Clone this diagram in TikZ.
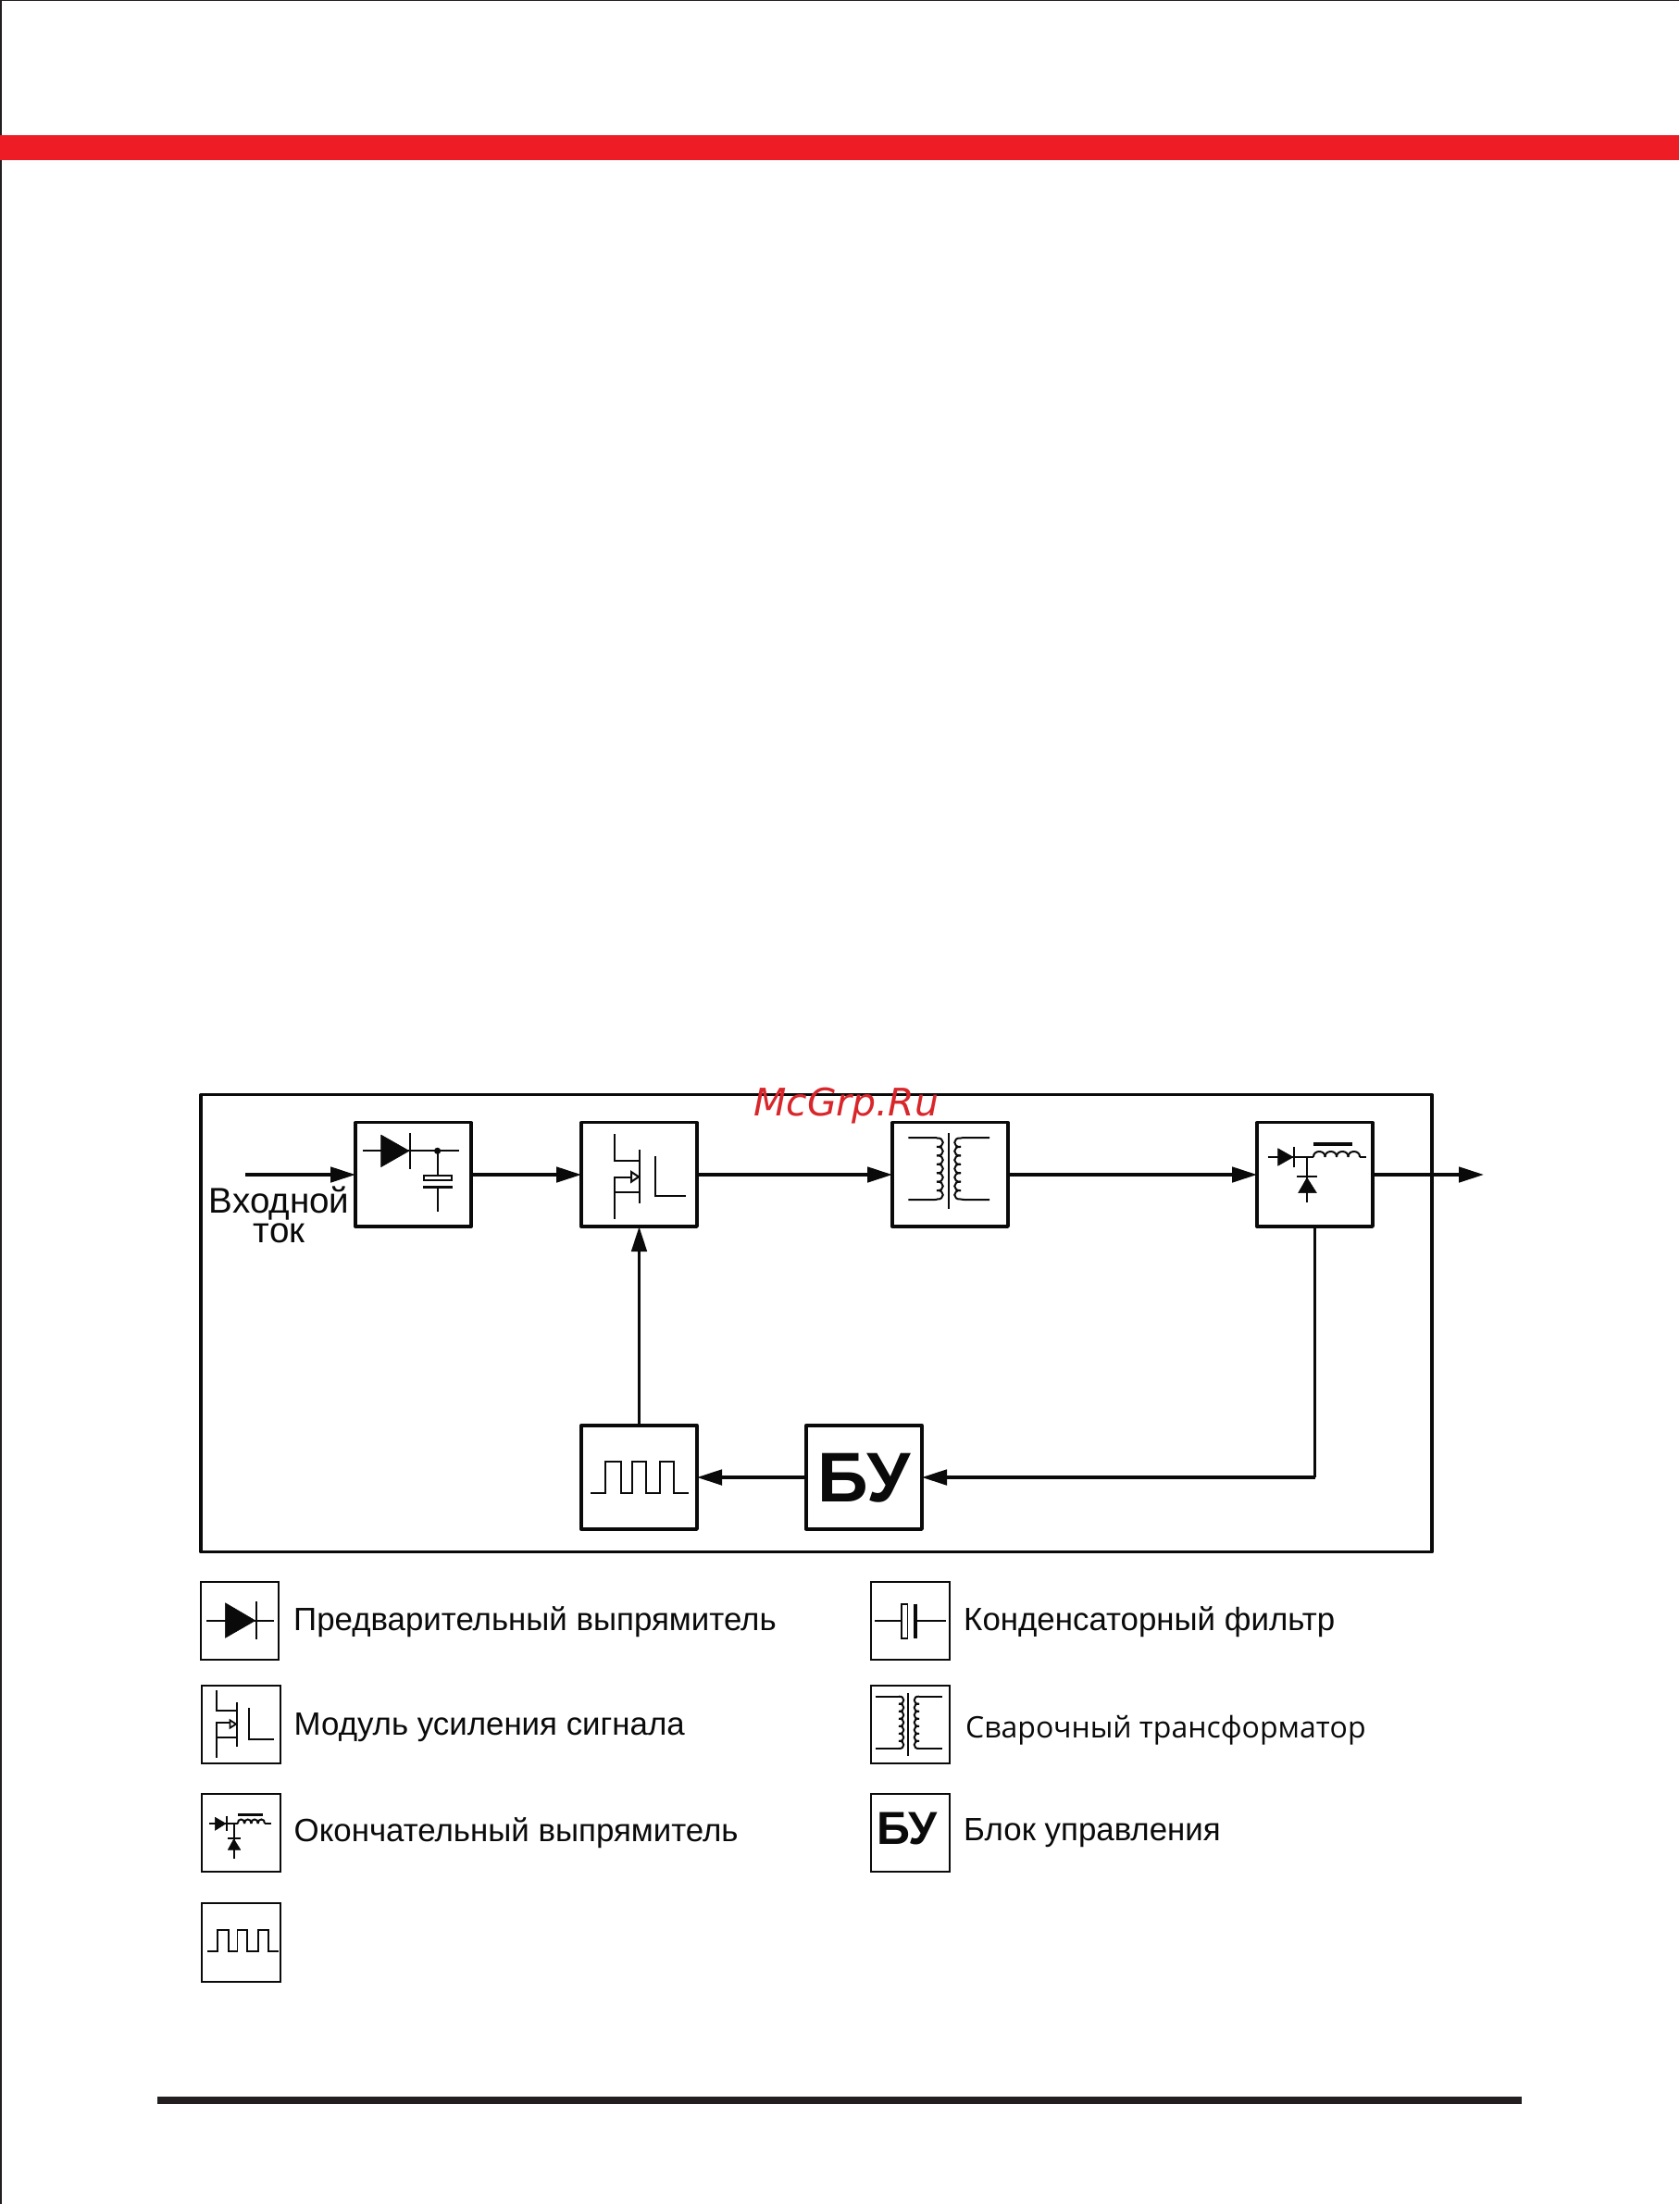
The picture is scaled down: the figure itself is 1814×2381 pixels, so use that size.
\documentclass[tikz,border=0pt]{standalone}
\usepackage{fontspec}
\setmainfont{Liberation Sans}
\newfontfamily\myriadlike{Open Sans}
\newfontfamily\wmfont{DejaVu Sans}
\usetikzlibrary{arrows.meta}
\definecolor{bandred}{HTML}{EE1C25}
\definecolor{wmred}{HTML}{D9262B}
\definecolor{inkblack}{HTML}{0A0A0A}
\definecolor{rulecol}{HTML}{231F20}
\newcommand{\fs}[1]{\fontsize{#1}{#1}\selectfont}
% coil: start x, start y, bulge, pitch, turns
\newcommand{\coil}[5]{%
  \foreach \ci in {1,...,#5}{%
    \draw[sym] ({#1},{#2+(\ci-1)*#4}) .. controls ({#1+#3},{#2+(\ci-1)*#4-1}) and ({#1+#3},{#2+\ci*#4+1}) .. ({#1},{#2+\ci*#4});
  }}
% humps of an inductor: start x, y, width of one, height, count
\newcommand{\humps}[5]{%
  \foreach \ci in {1,...,#5}{%
    \draw[sym] ({#1+(\ci-1)*#3},{#2}) .. controls ({#1+(\ci-1)*#3-0.5},{#2-#4}) and ({#1+\ci*#3+0.5},{#2-#4}) .. ({#1+\ci*#3},{#2});
  }}
\tikzset{
  block/.style={draw=inkblack,line width=3.3pt,line join=round,outer sep=0pt,anchor=north west,inner sep=0pt},
  legendbox/.style={draw=inkblack,line width=2.4pt,outer sep=0pt,anchor=north west,inner sep=0pt},
  sym/.style={draw=inkblack,line width=2pt},
  symthin/.style={draw=inkblack,line width=1.8pt},
  blackfill/.style={fill=inkblack,draw=inkblack,line width=0.5pt,line join=round},
  link/.style={draw=inkblack,line width=3.3pt},
  flow/.style={link,-{Triangle[length=27pt,width=16.5pt]}},
  legendtext/.style={anchor=base west,inner sep=0pt,text=inkblack,font=\fs{34.85}},
  boxlabel/.style={anchor=center,inner sep=0pt,text=inkblack,font=\bfseries\fs{76}},
  inlabel/.style={anchor=base,inner sep=0pt,text=inkblack,font=\fs{38.6}},
}
\begin{document}
\begin{tikzpicture}[x=1pt,y=-1pt]
\useasboundingbox (0,0) rectangle (1814,2381);
\fill[white] (0,0) rectangle (1814,2381);
% page edges, band and rule
\draw[line width=1.5pt,draw=rulecol] (0.75,2381) -- (0.75,0.75) -- (1814,0.75);
\fill[bandred] (0,146) rectangle (1814,173.5);
\fill[rulecol] (170,2265) rectangle (1644,2273);
% outer frame
\node[block,minimum width=1330pt,minimum height=494pt] (frame) at (217,1182.8) {};
% blocks
\node[block,minimum width=125pt,minimum height=112.3pt] (rect) at (384,1212.8) {};
\node[block,minimum width=125pt,minimum height=112.3pt] (amp) at (628,1212.8) {};
\node[block,minimum width=125pt,minimum height=112.3pt] (trans) at (964,1212.8) {};
\node[block,minimum width=125pt,minimum height=112.3pt] (out) at (1358,1212.8) {};
\node[block,minimum width=125pt,minimum height=112pt] (pulse) at (628,1540) {};
\node[block,minimum width=125pt,minimum height=112pt] (bu) at (871,1540) {};
\node[boxlabel] (bulabel) at (933.5,1596.5) {БУ};
% connectors
\coordinate (inp) at (265,1269);
\coordinate (outp) at (1603,1269);
\coordinate (corner) at (out.south |- bu.east);
\draw[flow] (inp) -- (rect.west |- inp);
\draw[flow] (rect.east |- inp) -- (amp.west |- inp);
\draw[flow] (amp.east |- inp) -- (trans.west |- inp);
\draw[flow] (trans.east |- inp) -- (out.west |- inp);
\draw[flow] (out.east |- inp) -- (outp);
\draw[flow] (pulse.north) -- (amp.south);
\draw[link] (out.south) -- (corner);
\draw[flow] (corner) -- (bu.east);
\draw[flow] (bu.west) -- (pulse.east);
% input label
\node[inlabel] (inlabel1) at (301.7,1310) {Входной};
\node[inlabel] (inlabel2) at (301.7,1342) {ток};
% watermark
\node[anchor=base west,inner sep=0pt,text=wmred,font=\wmfont\itshape\fs{41}] (wm) at (814,1205.5) {McGrp.Ru};
% block 1 symbol
\draw[sym] (391.6,1243.3) -- (496,1243.3);
\fill[blackfill] (411.6,1226) -- (442,1243.3) -- (411.6,1260.7) -- cycle;
\draw[sym] (442.5,1224) -- (442.5,1262.7);
\fill[inkblack] (472.6,1243.3) circle (3.6);
\draw[sym] (472.6,1243.3) -- (472.6,1270);
\draw[sym] (457.5,1270) rectangle (488,1275);
\draw[line width=3pt,draw=inkblack] (457,1282.3) -- (488.6,1282.3);
\draw[sym] (472.6,1282.3) -- (472.6,1309.3);
% mosfet block
\draw[sym] (664,1225) -- (664,1254) -- (691,1254);
\draw[sym] (691,1242.3) -- (691,1300);
\draw[sym] (682,1272) -- (664,1272) -- (664,1316.7);
\draw[sym] (664,1288.3) -- (691,1288.3);
\draw[sym,fill=white] (682,1266) -- (690,1271.3) -- (682,1276.7) -- cycle;
\draw[sym] (708,1249.3) -- (708,1291.7) -- (741,1291.7);
% transformer block
\draw[sym] (1025.2,1224) -- (1025.2,1305.7);
\draw[sym] (981.3,1229) -- (1008,1229) .. controls (1012,1229) .. (1012,1229.5);
\draw[sym] (981.3,1296) -- (1008,1296) .. controls (1012,1296) .. (1012,1295.5);
\coil{1012}{1229.5}{9}{9.43}{7}
\draw[sym] (1069,1229) -- (1044,1229) .. controls (1040,1229) .. (1038,1229.5);
\draw[sym] (1069,1296) -- (1044,1296) .. controls (1040,1296) .. (1038,1295.5);
\coil{1038}{1229.5}{-9}{9.43}{7}
% output rectifier block
\draw[sym] (1369.7,1250) -- (1419,1250);
\fill[blackfill] (1380.6,1240.7) -- (1397,1250) -- (1380.6,1259.3) -- cycle;
\draw[sym] (1398,1239.3) -- (1398,1260.7);
\draw[sym] (1412,1250) -- (1412,1299.3);
\draw[sym] (1401,1270.7) -- (1423,1270.7);
\fill[blackfill] (1412,1272.3) -- (1422.4,1288.7) -- (1402.6,1288.7) -- cycle;
\humps{1419}{1250}{12.5}{8}{4}
\draw[sym] (1469,1250) -- (1475.6,1250);
\fill[inkblack] (1419,1233.7) rectangle (1461,1237.7);
% pulse block
\draw[sym] (638.3,1612.7) -- (654,1612.7) -- (654,1579.3) -- (671,1579.3) -- (671,1612.7) -- (682.7,1612.7) -- (682.7,1579.3) -- (697.7,1579.3) -- (697.7,1612.7) -- (712.7,1612.7) -- (712.7,1579.3) -- (727.7,1579.3) -- (727.7,1612.7) -- (744,1612.7);
% legend left
\node[legendbox,minimum width=84pt,minimum height=84pt] (l1) at (217,1709) {};
\node[legendbox,minimum width=85pt,minimum height=84pt] (l2) at (218,1821) {};
\node[legendbox,minimum width=85pt,minimum height=84pt] (l3) at (218,1938) {};
\node[legendbox,minimum width=85pt,minimum height=85pt] (l4) at (218,2056) {};
\draw[symthin] (223,1750.7) -- (296,1750.7);
\fill[blackfill] (243.4,1731.7) -- (275.8,1750.7) -- (243.4,1769.3) -- cycle;
\draw[symthin] (277,1730) -- (277,1770.7);
\node[legendtext] (t1) at (317,1761) {Предварительный выпрямитель};
% legend mosfet
\draw[symthin] (233.7,1826) -- (233.7,1848.3) -- (256,1848.3);
\draw[symthin] (256,1839) -- (256,1886.7);
\draw[symthin] (248.4,1861) -- (233.7,1861) -- (233.7,1899.3);
\draw[symthin] (233.7,1876.7) -- (256,1876.7);
\draw[symthin,fill=white] (248.4,1858.3) -- (255,1862.5) -- (248.4,1866.7) -- cycle;
\draw[symthin] (268.6,1845) -- (268.6,1879) -- (296,1879);
\node[legendtext] (t2) at (317.5,1874) {Модуль усиления сигнала};
% legend final rectifier
\draw[symthin] (226,1970) -- (257,1970);
\fill[blackfill] (232.4,1963.3) -- (244,1970) -- (232.4,1977.3) -- cycle;
\draw[symthin] (245,1961.7) -- (245,1978.3);
\draw[symthin] (252.6,1970) -- (252.6,2007.7);
\draw[symthin] (245.5,1985.7) -- (260,1985.7);
\fill[blackfill] (252.6,1986.7) -- (259.8,1998.3) -- (246.3,1998.3) -- cycle;
\humps{256.8}{1970}{7.3}{6}{4}
\draw[symthin] (286,1970) -- (293.4,1970);
\fill[inkblack] (256.8,1958.5) rectangle (284,1961.5);
\node[legendtext] (t3) at (317.5,1989.3) {Окончательный выпрямитель};
% legend pulse
\draw[symthin] (224,2108.3) -- (235,2108.3) -- (235,2085) -- (247,2085) -- (247,2108.3) -- (256.4,2108.3) -- (256.4,2085) -- (267.3,2085) -- (267.3,2108.3) -- (279,2108.3) -- (279,2085) -- (289.6,2085) -- (289.6,2108.3) -- (301,2108.3);
% legend right
\node[legendbox,minimum width=85pt,minimum height=84pt] (r1) at (941,1709) {};
\node[legendbox,minimum width=85pt,minimum height=84pt] (r2) at (941,1821) {};
\node[legendbox,minimum width=85pt,minimum height=84pt] (r3) at (941,1938) {};
\draw[symthin] (945,1750.7) -- (974,1750.7);
\draw[symthin] (974,1732.7) rectangle (980.5,1770.3);
\draw[line width=3.5pt,draw=inkblack] (989,1732.7) -- (989,1770.3);
\draw[symthin] (989,1750.7) -- (1022,1750.7);
\node[legendtext] (t5) at (1041,1761) {Конденсаторный фильтр};
\draw[symthin] (981.3,1829.3) -- (981.3,1896.7);
\draw[symthin] (945.7,1832.7) -- (971.5,1832.7);
\draw[symthin] (945.7,1889) -- (971.5,1889);
\draw[symthin] (1018,1832.7) -- (993,1832.7);
\draw[symthin] (1018,1889) -- (993,1889);
\coil{971}{1832.7}{7}{8.03}{7}
\coil{993}{1832.7}{-7}{8.03}{7}
\node[legendtext,font=\myriadlike\fs{32}] (t6) at (1043,1877) {Сварочный трансформатор};
\node[boxlabel,font=\bfseries\fs{50}] (r3label) at (980,1976) {БУ};
\node[legendtext] (t7) at (1041,1988.3) {Блок управления};
\end{tikzpicture}
\end{document}
